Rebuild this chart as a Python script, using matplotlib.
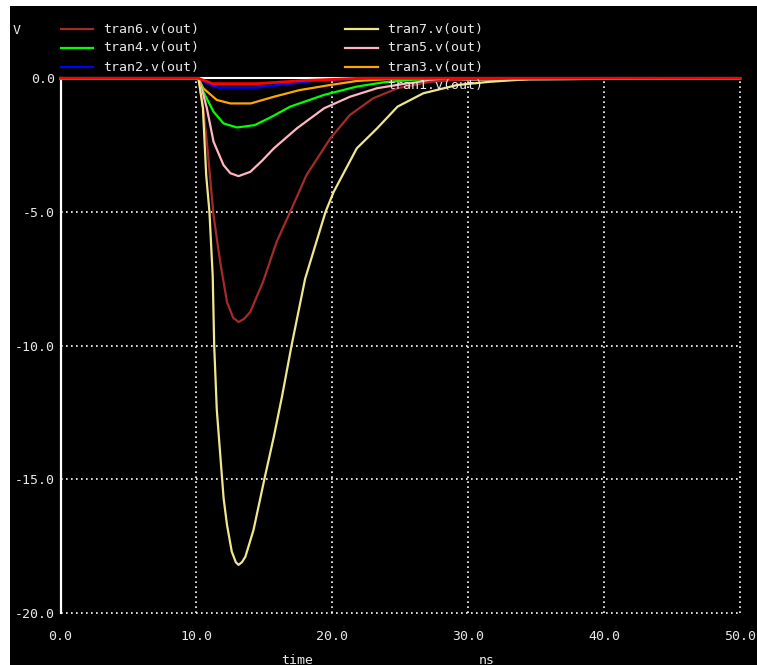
import matplotlib
matplotlib.use("Agg")
import matplotlib.pyplot as plt
from matplotlib.patches import Rectangle
from matplotlib.lines import Line2D

# ---- data (time in ns, voltage in V) ----
t7 = [0, 10.15, 10.48, 10.72, 10.96, 11.2, 11.31, 11.5, 12.0, 12.25, 12.6, 12.9, 13.1, 13.35, 13.6,
      14.2, 15.0, 15.7, 16.3, 17.0, 18.0, 19.5, 20.1, 21.8, 23.3, 24.8, 26.7, 29.2, 31.6, 34.5, 50]
v7 = [0, 0, -1.12, -3.62, -5.0, -7.4, -10.0, -12.4, -15.7, -16.7, -17.7, -18.1, -18.2, -18.1, -17.9,
      -16.9, -15.0, -13.4, -11.9, -10.0, -7.5, -5.0, -4.25, -2.62, -1.87, -1.06, -0.56, -0.25, -0.13, -0.03, 0]

t6 = [0, 10.15, 10.5, 10.77, 11.26, 11.75, 12.25, 12.7, 13.1, 13.5, 13.96, 14.9, 15.9, 16.9, 18.1,
      19.85, 21.3, 23.0, 24.8, 27.2, 30, 50]
v6 = [0, 0, -1.12, -2.37, -5.12, -6.87, -8.37, -8.95, -9.12, -9.0, -8.74, -7.62, -6.12, -5.0, -3.62,
      -2.25, -1.37, -0.75, -0.37, -0.13, -0.03, 0]

t5 = [0, 10.15, 10.5, 10.77, 11.26, 12.0, 12.5, 13.1, 13.96, 14.8, 15.7, 17.4, 19.4, 21.3, 23.3, 25.5, 28, 50]
v5 = [0, 0, -0.6, -1.12, -2.37, -3.25, -3.55, -3.66, -3.5, -3.1, -2.62, -1.87, -1.12, -0.69, -0.37, -0.19, -0.05, 0]

t4 = [0, 10.15, 10.5, 11.26, 12.0, 13.0, 14.3, 15.5, 16.9, 19.4, 21.8, 23.8, 26, 50]
v4 = [0, 0, -0.5, -1.25, -1.69, -1.84, -1.75, -1.45, -1.06, -0.62, -0.31, -0.15, -0.05, 0]

t3 = [0, 10.15, 10.5, 11.5, 12.5, 14.0, 15.7, 17.6, 19.85, 21.8, 24, 50]
v3 = [0, 0, -0.37, -0.81, -0.94, -0.94, -0.69, -0.44, -0.25, -0.1, -0.03, 0]

t2 = [0, 10.15, 11.0, 11.6, 14.3, 17.0, 18.6, 21, 50]
v2 = [0, 0, -0.25, -0.35, -0.35, -0.2, -0.1, -0.03, 0]

t1 = [0, 10.15, 11.2, 14.5, 18, 22, 50]
v1 = [0, 0, -0.2, -0.2, -0.08, 0, 0]

names = ["tran1.v(out)", "tran2.v(out)", "tran3.v(out)", "tran4.v(out)",
         "tran5.v(out)", "tran6.v(out)", "tran7.v(out)"]
colors = ["#ff0000", "#0000ff", "#ffa500", "#00ff00", "#ffb6c1", "#a52a2a", "#f0e68c"]
series_t = [t1, t2, t3, t4, t5, t6, t7]
series_v = [v1, v2, v3, v4, v5, v6, v7]

x_ticks = [0, 10, 20, 30, 40, 50]
x_labels = ["0.0", "10.0", "20.0", "30.0", "40.0", "50.0"]
y_ticks = [0, -5, -10, -15, -20]
y_labels = ["0.0", "-5.0", "-10.0", "-15.0", "-20.0"]

W, H = 757, 665
fig = plt.figure(figsize=(W / 100, H / 100), dpi=100)
fig.patch.set_facecolor("black")
# thin white frame strips on the top and left edges
fig.add_artist(Rectangle((0, 1 - 6 / H), 1, 6 / H, transform=fig.transFigure,
                         facecolor="white", edgecolor="none"))
fig.add_artist(Rectangle((0, 0), 10 / W, 1, transform=fig.transFigure,
                         facecolor="white", edgecolor="none"))

def fx(px):
    return px / W

def fy(py):
    return 1 - py / H

L, R, T, B = 60.5, 740, 78.3, 613
ax = fig.add_axes([fx(L), fy(B), fx(R) - fx(L), fy(T) - fy(B)])
ax.set_facecolor("black")
ax.set_xlim(0, 50)
ax.set_ylim(-20, 0)
for s in ax.spines.values():
    s.set_visible(False)

mono = "DejaVu Sans Mono"
txtc = "#e8e8e8"
ax.set_xticks(x_ticks)
ax.set_xticklabels(x_labels, family=mono, fontsize=9.5, color=txtc)
ax.set_yticks(y_ticks)
ax.set_yticklabels(y_labels, family=mono, fontsize=9.5, color=txtc)
ax.tick_params(length=0, pad=4)
ax.tick_params(axis="x", pad=12)

# dotted grid
for xv in x_ticks[1:]:
    ax.axvline(xv, color="white", lw=1.2, ls=(0, (1, 2)), clip_on=False, zorder=1)
for yv in y_ticks[1:]:
    ax.axhline(yv, color="white", lw=1.2, ls=(0, (1, 2)), clip_on=False, zorder=1)
ax.axhline(0, color="white", lw=1.5, clip_on=False, zorder=1)
ax.axvline(0, color="white", lw=1.6, clip_on=False, zorder=1)

# curves: draw tran2..tran7 then tran1 on top
order = [1, 2, 3, 4, 5, 6, 0]
for i in order:
    ax.plot(series_t[i], series_v[i], color=colors[i], lw=1.6 if i else 2.0,
            clip_on=False, zorder=3 + (10 if i == 0 else i))

# legend (column 1: tran6, tran4, tran2 ; column 2: tran7, tran5, tran3, tran1)
rows = [29, 48, 67, 86]
col1 = [5, 3, 1]
col2 = [6, 4, 2, 0]
for r, i in enumerate(col1):
    fig.add_artist(Line2D([fx(61), fx(93)], [fy(rows[r]), fy(rows[r])], color=colors[i], lw=1.6))
    fig.text(fx(103), fy(rows[r]), names[i], family=mono, fontsize=9.5, color=txtc, va="center")
for r, i in enumerate(col2):
    if i != 0:
        fig.add_artist(Line2D([fx(345), fx(378)], [fy(rows[r]), fy(rows[r])], color=colors[i], lw=1.6))
    fig.text(fx(387), fy(rows[r]), names[i], family=mono, fontsize=9.5, color=txtc, va="center", zorder=20)

fig.text(fx(17), fy(30), "V", family=mono, fontsize=9.5, color=txtc, ha="center", va="center")
fig.text(fx(297), fy(660), "time", family=mono, fontsize=9.5, color=txtc, ha="center", va="center")
fig.text(fx(487), fy(660), "ns", family=mono, fontsize=9.5, color=txtc, ha="center", va="center")

fig.savefig("out.png", dpi=100, facecolor=fig.get_facecolor())
